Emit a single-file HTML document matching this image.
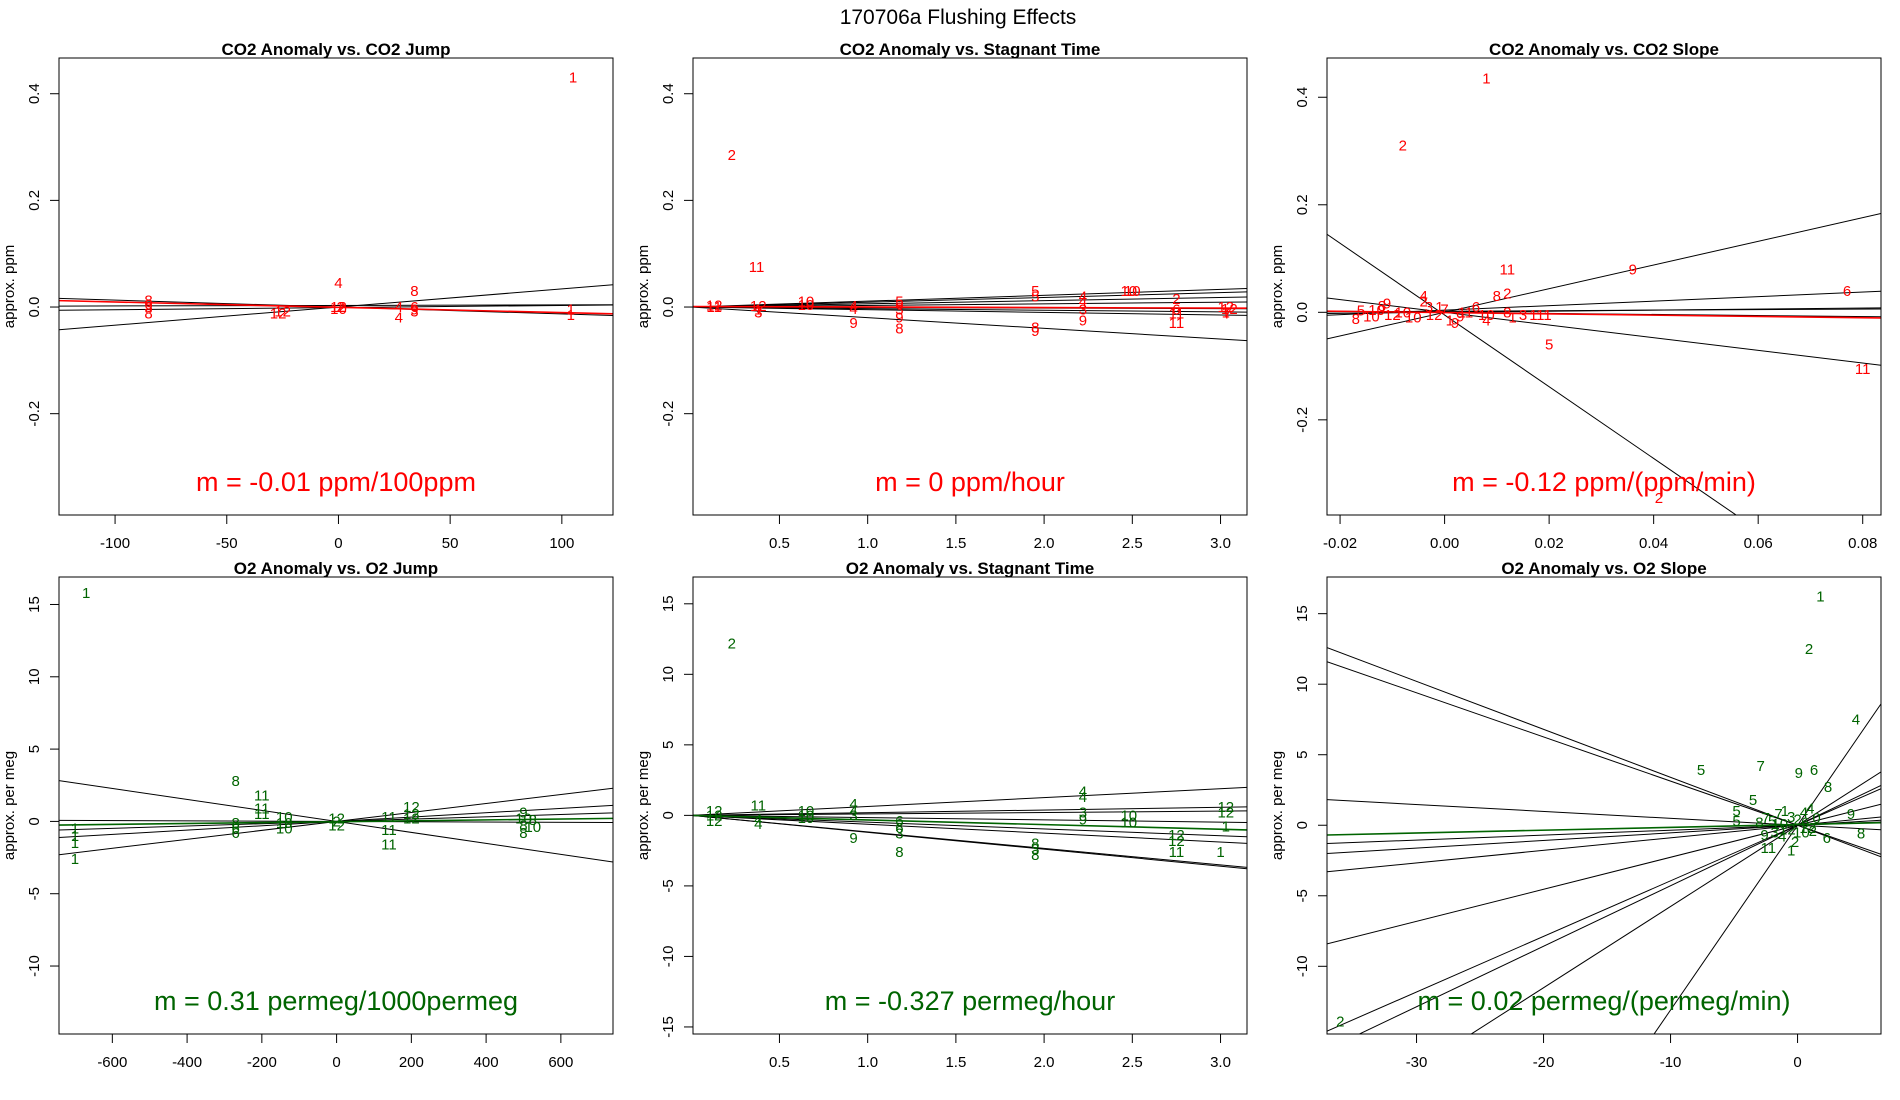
<!DOCTYPE html>
<html><head><meta charset="utf-8"><title>170706a Flushing Effects</title>
<style>html,body{margin:0;padding:0;background:#fff;overflow:hidden;width:1900px;height:1100px;}svg{display:block;font-family:"Liberation Sans",sans-serif;}</style>
</head><body>
<svg id="chart" width="1900" height="1100" viewBox="0 0 1900 1100">
<text x="958" y="24" font-size="21" text-anchor="middle">170706a   Flushing Effects</text>
</svg>
<script>
// ---- Panel 1: CO2 Anomaly vs CO2 Jump ----
const p1Points = [[105,0.43,"1"],[104,-0.015,"1"],[104,-0.005,"1"],[-85,0.012,"8"],[-85,0.005,"6"],[-85,0.0,"3"],[-85,-0.012,"8"],[-25,-0.008,"12"],[-27,-0.012,"12"],[0,0.045,"4"],[0,0.0,"12"],[1,0.0,"2"],[0,-0.004,"10"],[27,0.0,"4"],[27,-0.02,"4"],[34,0.03,"8"],[34,0.0,"6"],[34,-0.005,"9"],[34,-0.008,"3"]];
const p1Slopes = [0.00034,-0.00013,0.00004,0.00001];
const p1Intercepts = [0.0,0.0,-0.001,0.003];
const p1Fit = [-0.0001,-0.0005];
const p1XTicks = [-100,-50,0,50,100];
const p1XLabels = ["-100","-50","0","50","100"];
const p1YTicks = [-0.2,0,0.2,0.4];
const p1YLabels = ["-0.2","0.0","0.2","0.4"];

// ---- Panel 2: CO2 Anomaly vs Stagnant Time ----
const p2Points = [[0.23,0.285,"2"],[0.37,0.075,"11"],[0.13,0.003,"12"],[0.13,0.0,"11"],[0.38,0.002,"12"],[0.38,-0.005,"1"],[0.38,-0.01,"3"],[0.65,0.01,"10"],[0.65,0.004,"10"],[0.92,0.002,"4"],[0.92,-0.004,"4"],[0.92,-0.03,"9"],[1.18,0.01,"5"],[1.18,0.005,"6"],[1.18,-0.005,"3"],[1.18,-0.02,"9"],[1.18,-0.04,"8"],[1.95,0.03,"5"],[1.95,0.02,"5"],[1.95,-0.038,"8"],[1.95,-0.045,"9"],[2.22,0.02,"4"],[2.22,0.01,"4"],[2.22,-0.005,"3"],[2.22,-0.025,"9"],[2.48,0.03,"10"],[2.5,0.03,"10"],[2.75,0.015,"2"],[2.75,-0.005,"6"],[2.75,-0.012,"11"],[2.75,-0.03,"11"],[3.03,0.0,"12"],[3.05,-0.004,"12"],[3.03,-0.01,"1"],[3.04,-0.012,"7"]];
const p2Slopes = [0.011,0.009,0.006,0.003,-0.001,-0.003,-0.005,-0.02];
const p2Intercepts = [0,0,0,0,0,0,0,0];
const p2Fit = [-0.001,0.001];
const p2XTicks = [0.5,1.0,1.5,2.0,2.5,3.0];
const p2XLabels = ["0.5","1.0","1.5","2.0","2.5","3.0"];

// ---- Panel 3: CO2 Anomaly vs CO2 Slope ----
const p3Points = [[0.008,0.435,"1"],[-0.008,0.31,"2"],[0.012,0.08,"11"],[0.036,0.08,"9"],[0.077,0.04,"6"],[0.02,-0.06,"5"],[0.08,-0.105,"11"],[0.041,-0.345,"2"],[-0.016,0.003,"5"],[-0.017,-0.012,"8"],[-0.013,0.004,"10"],[-0.012,0.012,"8"],[-0.011,0.016,"9"],[-0.01,-0.005,"12"],[-0.008,0.0,"10"],[-0.006,-0.01,"10"],[-0.004,0.02,"2"],[-0.003,0.01,"3"],[-0.002,-0.005,"12"],[0.0,0.005,"7"],[0.001,-0.015,"1"],[0.002,-0.02,"9"],[-0.001,0.01,"1"],[-0.004,0.03,"4"],[0.004,0.0,"11"],[0.008,-0.015,"4"],[0.006,0.01,"6"],[0.008,-0.005,"10"],[0.01,0.03,"8"],[0.012,0.035,"2"],[0.012,0.0,"8"],[0.013,-0.01,"1"],[0.015,-0.005,"3"],[0.017,-0.005,"1"],[0.019,-0.005,"11"],[-0.014,-0.008,"10"],[0.003,-0.008,"9"]];
const p3Slopes = [2.2,-6.67,-1.18,0.42,0.1,-0.1,0.05];
const p3Intercepts = [0.0,-0.005,0.0,0.004,0.0,0.0,0.002];
const p3Fit = [-0.12,-0.0005];
const p3XTicks = [-0.02,0,0.02,0.04,0.06,0.08];
const p3XLabels = ["-0.02","0.00","0.02","0.04","0.06","0.08"];

// ---- Panel 4: O2 Anomaly vs O2 Jump ----
const p4Points = [[-670,15.8,"1"],[-700,-0.5,"1"],[-700,-1.0,"1"],[-700,-1.5,"1"],[-700,-2.6,"1"],[-270,2.8,"8"],[-270,-0.1,"8"],[-270,-0.5,"6"],[-270,-0.8,"6"],[-200,1.8,"11"],[-200,0.9,"11"],[-200,0.5,"11"],[-140,0.3,"10"],[-140,-0.1,"10"],[-140,-0.5,"10"],[0,0.2,"12"],[0,-0.3,"12"],[0,0.0,"2"],[140,0.3,"11"],[140,-0.6,"11"],[140,-1.6,"11"],[200,1.0,"12"],[200,0.5,"12"],[200,0.2,"12"],[500,0.6,"9"],[500,0.2,"10"],[500,-0.3,"8"],[500,-0.8,"8"],[525,-0.4,"10"],[525,0.1,"8"]];
const p4Slopes = [-0.0038,0.0031,0.0015,0.0008,-0.0001];
const p4Intercepts = [0,0,0,0,0];
const p4Fit = [0.00031,-0.02];
const p4XTicks = [-600,-400,-200,0,200,400,600];
const p4XLabels = ["-600","-400","-200","0","200","400","600"];
const p4YTicks = [-10,-5,0,5,10,15];
const p4YLabels = ["-10","-5","0","5","10","15"];

// ---- Panel 5: O2 Anomaly vs Stagnant Time ----
const p5Points = [[0.23,12.2,"2"],[0.13,0.3,"12"],[0.13,0.0,"12"],[0.13,-0.4,"12"],[0.38,0.7,"11"],[0.38,-0.3,"4"],[0.38,-0.6,"4"],[0.65,0.3,"10"],[0.65,0.0,"10"],[0.65,-0.2,"10"],[0.92,0.8,"4"],[0.92,0.3,"4"],[0.92,0.0,"3"],[0.92,-1.6,"9"],[1.18,-0.4,"6"],[1.18,-0.9,"6"],[1.18,-1.3,"3"],[1.18,-2.6,"8"],[1.95,-2.0,"8"],[1.95,-2.4,"3"],[1.95,-2.8,"8"],[2.22,1.7,"4"],[2.22,1.3,"4"],[2.22,0.2,"3"],[2.22,-0.3,"9"],[2.48,0.0,"10"],[2.48,-0.5,"10"],[2.75,-1.4,"12"],[2.75,-1.8,"12"],[2.75,-2.6,"11"],[3.03,0.6,"12"],[3.03,0.2,"12"],[3.03,-0.8,"1"],[3.0,-2.6,"1"]];
const p5Slopes = [0.63,0.19,0.1,-0.16,-0.48,-0.63,-1.17,-1.2];
const p5Intercepts = [0,0,0,0,0,0,0,0];
const p5Fit = [-0.327,0.0];
const p5YTicks = [-15,-10,-5,0,5,10,15];
const p5YLabels = ["-15","-10","-5","0","5","10","15"];

// ---- Panel 6: O2 Anomaly vs O2 Slope ----
const p6Points = [[1.8,16.2,"1"],[0.9,12.5,"2"],[4.6,7.5,"4"],[-7.6,3.9,"5"],[-2.9,4.2,"7"],[0.1,3.7,"9"],[1.3,3.9,"6"],[2.4,2.7,"8"],[-3.5,1.8,"5"],[-4.8,1.0,"5"],[-4.8,0.3,"5"],[4.2,0.8,"9"],[5.0,-0.6,"8"],[2.3,-0.9,"6"],[-2.3,-1.6,"11"],[-36,-13.9,"2"],[-0.5,-1.8,"1"],[-3.0,0.2,"8"],[-2.5,0.5,"7"],[-2.0,0.3,"5"],[-1.5,0.8,"7"],[-1.0,1.0,"1"],[-0.5,0.6,"3"],[0.0,0.4,"2"],[0.5,0.9,"4"],[1.0,1.2,"4"],[1.5,0.5,"0"],[-1.8,-0.5,"3"],[-1.2,-0.8,"4"],[-0.8,-0.3,"12"],[0.3,-0.5,"10"],[0.8,-0.2,"12"],[1.2,-0.4,"2"],[-2.6,-0.7,"9"],[-0.2,-1.2,"2"],[0.6,0.2,"6"],[-1.4,0.1,"10"]];
const p6Slopes = [-0.34,-0.313,-0.049,0.035,0.054,0.089,0.227,0.394,0.429,0.576,1.31];
const p6Intercepts = [0,0,0,0,0,0,0,0,0,0,0];
const p6Fit = [0.02,0.05];
const p6XTicks = [-30,-20,-10,0];
const p6XLabels = ["-30","-20","-10","0"];

const NS = "http://www.w3.org/2000/svg";
const svg = document.getElementById("chart");
function mk(tag, attrs, parent){const e=document.createElementNS(NS,tag);for(const k in attrs)e.setAttribute(k,attrs[k]);(parent||svg).appendChild(e);return e;}

const RED="#ff0000", GREEN="#006400";
const panels = [
 {id:"co2-jump",title:"CO2 Anomaly vs. CO2 Jump",box:[59,58,613,515],xlim:[-125.1,122.9],ylim:[-0.39,0.467],pts:p1Points,sl:p1Slopes,ic:p1Intercepts,fit:p1Fit,xt:p1XTicks,xl:p1XLabels,yt:p1YTicks,yl:p1YLabels,ylab:"approx. ppm",col:RED,m:"m = -0.01 ppm/100ppm"},
 {id:"co2-stagnant",title:"CO2 Anomaly vs. Stagnant Time",box:[693,58,1247,515],xlim:[0.01,3.15],ylim:[-0.39,0.467],pts:p2Points,sl:p2Slopes,ic:p2Intercepts,fit:p2Fit,xt:p2XTicks,xl:p2XLabels,yt:p1YTicks,yl:p1YLabels,ylab:"approx. ppm",col:RED,m:"m = 0 ppm/hour"},
 {id:"co2-slope",title:"CO2 Anomaly vs. CO2 Slope",box:[1327,58,1881,515],xlim:[-0.0225,0.0835],ylim:[-0.377,0.473],pts:p3Points,sl:p3Slopes,ic:p3Intercepts,fit:p3Fit,xt:p3XTicks,xl:p3XLabels,yt:p1YTicks,yl:p1YLabels,ylab:"approx. ppm",col:RED,m:"m = -0.12 ppm/(ppm/min)"},
 {id:"o2-jump",title:"O2 Anomaly vs. O2 Jump",box:[59,577,613,1034],xlim:[-742.7,739.5],ylim:[-14.7,16.9],pts:p4Points,sl:p4Slopes,ic:p4Intercepts,fit:p4Fit,xt:p4XTicks,xl:p4XLabels,yt:p4YTicks,yl:p4YLabels,ylab:"approx. per meg",col:GREEN,m:"m = 0.31 permeg/1000permeg"},
 {id:"o2-stagnant",title:"O2 Anomaly vs. Stagnant Time",box:[693,577,1247,1034],xlim:[0.01,3.15],ylim:[-15.5,16.9],pts:p5Points,sl:p5Slopes,ic:p5Intercepts,fit:p5Fit,xt:p2XTicks,xl:p2XLabels,yt:p5YTicks,yl:p5YLabels,ylab:"approx. per meg",col:GREEN,m:"m = -0.327 permeg/hour"},
 {id:"o2-slope",title:"O2 Anomaly vs. O2 Slope",box:[1327,577,1881,1034],xlim:[-37.05,6.57],ylim:[-14.8,17.6],pts:p6Points,sl:p6Slopes,ic:p6Intercepts,fit:p6Fit,xt:p6XTicks,xl:p6XLabels,yt:p4YTicks,yl:p4YLabels,ylab:"approx. per meg",col:GREEN,m:"m = 0.02 permeg/(permeg/min)"}
];

panels.forEach((p,i)=>{
 const [L,T,R,B]=p.box;
 const sx=v=>L+(v-p.xlim[0])/(p.xlim[1]-p.xlim[0])*(R-L);
 const sy=v=>B-(v-p.ylim[0])/(p.ylim[1]-p.ylim[0])*(B-T);
 const g=mk("g",{});
 
 
 const cp=mk("clipPath",{id:"clip"+i},g);
 mk("rect",{x:L,y:T,width:R-L,height:B-T},cp);
 const t=mk("text",{x:(L+R)/2,y:T-3,"font-size":17,"font-weight":"bold","text-anchor":"middle"},g);
 t.textContent=p.title;
 
 
 const lg=mk("g",{"clip-path":"url(#clip"+i+")"},g);
 
 
 p.sl.forEach((s,j)=>{
  const b=p.ic[j];
  const ln=mk("line",{x1:sx(p.xlim[0]),y1:sy(b+s*p.xlim[0]),x2:sx(p.xlim[1]),y2:sy(b+s*p.xlim[1]),stroke:"#000","stroke-width":1},lg);
  
  
 });
 p.pts.forEach(pt=>{
  const tx=mk("text",{x:sx(pt[0]),y:sy(pt[1])+5,"font-size":15,fill:p.col,"text-anchor":"middle"},lg);
  tx.textContent=pt[2];
  
  
 });
 const fl=mk("line",{x1:sx(p.xlim[0]),y1:sy(p.fit[1]+p.fit[0]*p.xlim[0]),x2:sx(p.xlim[1]),y2:sy(p.fit[1]+p.fit[0]*p.xlim[1]),stroke:p.col,"stroke-width":1.6},lg);
 
 
 const bx=mk("rect",{x:L,y:T,width:R-L,height:B-T,fill:"none",stroke:"#000","stroke-width":1},g);
 
 
 const xa=mk("g",{},g);
 
 
 mk("line",{x1:sx(p.xt[0]),y1:B,x2:sx(p.xt[p.xt.length-1]),y2:B,stroke:"#000"},xa);
 p.xt.forEach((v,j)=>{
  mk("line",{x1:sx(v),y1:B,x2:sx(v),y2:B+9,stroke:"#000"},xa);
  const lt=mk("text",{x:sx(v),y:B+33,"font-size":15,"text-anchor":"middle"},xa);
  lt.textContent=p.xl[j];
  
  
 });
 const ya=mk("g",{},g);
 
 
 mk("line",{x1:L,y1:sy(p.yt[0]),x2:L,y2:sy(p.yt[p.yt.length-1]),stroke:"#000"},ya);
 p.yt.forEach((v,j)=>{
  mk("line",{x1:L,y1:sy(v),x2:L-9,y2:sy(v),stroke:"#000"},ya);
  const lt=mk("text",{x:L-20,y:sy(v),"font-size":15,"text-anchor":"middle",transform:"rotate(-90 "+(L-20)+" "+sy(v)+")"},ya);
  lt.textContent=p.yl[j];
  
  
 });
 const yt=mk("text",{x:L-45,y:(T+B)/2,"font-size":15,"text-anchor":"middle",transform:"rotate(-90 "+(L-45)+" "+(T+B)/2+")"},ya);
 yt.textContent=p.ylab;
 
 
 const mt=mk("text",{x:(L+R)/2,y:B-24,"font-size":27,fill:p.col,"text-anchor":"middle"},g);
 mt.textContent=p.m;
 
 
});
</script>
</body></html>
